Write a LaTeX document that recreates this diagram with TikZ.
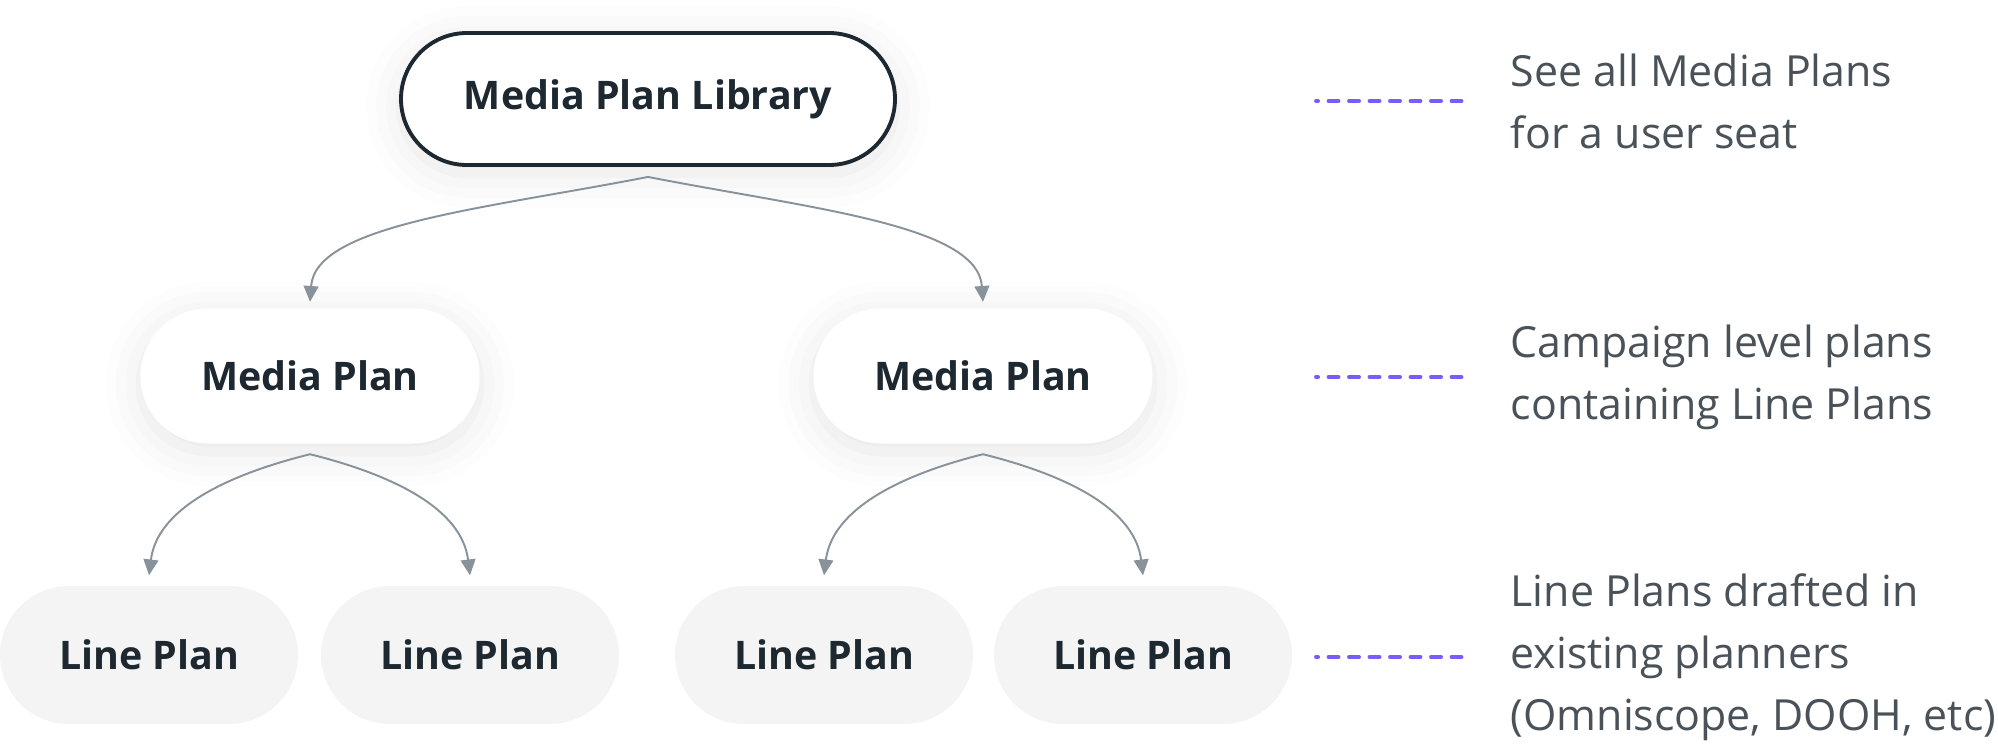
\documentclass[tikz,border=0pt]{standalone}
\usepackage{fontspec}
\setmainfont{Open Sans}
\usetikzlibrary{arrows.meta,shapes.misc,shadows.blur}
\definecolor{ink}{HTML}{1E2830}
\definecolor{note}{HTML}{4A5259}
\definecolor{wire}{HTML}{87929B}
\definecolor{lilac}{HTML}{7B5CFA}
\definecolor{pale}{HTML}{F4F4F4}
\begin{document}
\begin{tikzpicture}[
    plan/.style={rounded rectangle, inner sep=0pt, text=ink,
      font=\fontsize{11.2}{13}\selectfont\bfseries},
    soft/.style={blur shadow={shadow xshift=0pt, shadow yshift=-0.08cm,
      shadow blur radius=0.35cm, shadow opacity=10}},
    link/.style={wire, line width=0.55pt, -{Triangle[width=4.2pt,length=4.5pt]}},
    guide/.style={lilac, line width=1.1pt, line cap=round,
      dash pattern=on 0.1cm off 0.105cm, dash phase=0.08cm},
    note/.style={anchor=west, align=left, text=note, inner sep=0pt,
      font=\fontsize{12.2}{17.6}\selectfont}]
      \useasboundingbox (0,0) rectangle (19.98,7.44) ;
      % tree
      \node[plan, soft, fill=white, draw=ink, line width=1.1pt, %
        minimum width=4.94cm, minimum height=1.32cm] (lib) at (6.48,6.45) %
        {Media Plan Library} ;
      \node[plan, soft, fill=white, minimum width=3.39cm, minimum height=1.35cm] %
        (mp1) at (3.10,3.68) {Media Plan} ;
      \node[plan, soft, fill=white, minimum width=3.39cm, minimum height=1.35cm] %
        (mp2) at (9.83,3.68) {Media Plan} ;
      \node[plan, fill=pale, minimum width=2.98cm, minimum height=1.38cm] %
        (lp1) at (1.49,0.89) {Line Plan} ;
      \node[plan, fill=pale, minimum width=2.98cm, minimum height=1.38cm] %
        (lp2) at (4.70,0.89) {Line Plan} ;
      \node[plan, fill=pale, minimum width=2.98cm, minimum height=1.38cm] %
        (lp3) at (8.24,0.89) {Line Plan} ;
      \node[plan, fill=pale, minimum width=2.98cm, minimum height=1.38cm] %
        (lp4) at (11.43,0.89) {Line Plan} ;
      \draw[link] ([yshift=-1mm]lib.south) to[out=191,in=86,out looseness=1.2, %
        in looseness=0.55] ([yshift=0.6mm]mp1.north) ;
      \draw[link] ([yshift=-1mm]lib.south) to[out=-11,in=94,out looseness=1.2, %
        in looseness=0.55] ([yshift=0.6mm]mp2.north) ;
      \draw[link] ([yshift=-1mm]mp1.south) to[out=194,in=83,out looseness=1.1, %
        in looseness=0.85] ([yshift=1mm]lp1.north) ;
      \draw[link] ([yshift=-1mm]mp1.south) to[out=-14,in=97,out looseness=1.1, %
        in looseness=0.85] ([yshift=1mm]lp2.north) ;
      \draw[link] ([yshift=-1mm]mp2.south) to[out=194,in=83,out looseness=1.1, %
        in looseness=0.85] ([yshift=1mm]lp3.north) ;
      \draw[link] ([yshift=-1mm]mp2.south) to[out=-14,in=97,out looseness=1.1, %
        in looseness=0.85] ([yshift=1mm]lp4.north) ;
      % notes
      \node[note] (n1) at (15.10,6.43) {See all Media Plans\\for a user seat} ;
      \node[note] (n2) at (15.10,3.67) {Campaign level plans\\containing Line Plans} ;
      \node[note] (n3) at (15.10,0.87) %
        {Line Plans drafted in\\existing planners\\(Omniscope, DOOH, etc)} ;
      \draw[guide] ([xshift=-1.94cm]n1.west) -- ([xshift=-0.42cm]n1.west) ;
      \draw[guide] ([xshift=-1.94cm]n2.west) -- ([xshift=-0.42cm]n2.west) ;
      \draw[guide] ([xshift=-1.94cm]n3.west) -- ([xshift=-0.42cm]n3.west) ;
\end{tikzpicture}
\end{document}
